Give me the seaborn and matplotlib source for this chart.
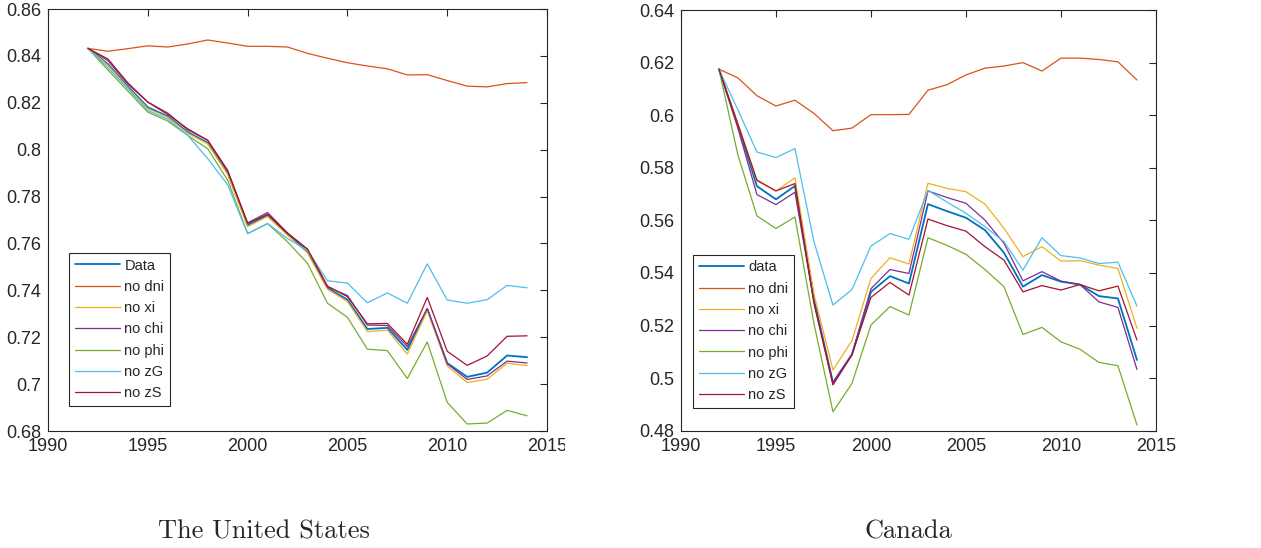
import matplotlib
matplotlib.use("Agg")
import matplotlib.pyplot as plt
from matplotlib.transforms import Bbox, TransformedBbox
import seaborn as sns
import pandas as pd
import numpy as np

years = list(range(1992, 2015))
series_us = ["Data", "no dni", "no xi", "no chi", "no phi", "no zG", "no zS"]
series_ca = ["data", "no dni", "no xi", "no chi", "no phi", "no zG", "no zS"]

# MATLAB default line colours
colors = ["#0072BD", "#D95319", "#EDB120", "#7E2F8E", "#77AC30", "#4DBEEE", "#A2142F"]

# United States
us_data = [0.8432, 0.8365, 0.827, 0.8181, 0.8142, 0.8075, 0.8029, 0.790, 0.7678, 0.772, 0.764, 0.7565,
           0.741, 0.736, 0.7235, 0.724, 0.7146, 0.732, 0.709, 0.7031, 0.7049, 0.7122, 0.7115]
us_dni = [0.8432, 0.842, 0.8431, 0.8443, 0.8438, 0.8451, 0.8468, 0.8455, 0.8441, 0.8441, 0.8438, 0.8411,
          0.839, 0.8371, 0.8357, 0.8345, 0.8319, 0.832, 0.8295, 0.8271, 0.8268, 0.8282, 0.8286]
us_xi = [0.8432, 0.836, 0.8265, 0.8175, 0.8138, 0.807, 0.8025, 0.7895, 0.7672, 0.7715, 0.7635, 0.756,
         0.7405, 0.7352, 0.7224, 0.723, 0.7128, 0.7313, 0.7078, 0.7007, 0.7021, 0.7089, 0.7079]
us_chi = [0.8432, 0.838, 0.828, 0.8203, 0.8156, 0.8085, 0.804, 0.7908, 0.7688, 0.7732, 0.7645, 0.7575,
          0.7415, 0.7378, 0.7252, 0.725, 0.716, 0.7323, 0.7087, 0.702, 0.7035, 0.7098, 0.709]
us_phi = [0.8432, 0.834, 0.825, 0.816, 0.8122, 0.8061, 0.8004, 0.787, 0.7642, 0.7685, 0.7607, 0.7515,
          0.7345, 0.7285, 0.7149, 0.7143, 0.7024, 0.718, 0.6922, 0.683, 0.6834, 0.6888, 0.6865]
us_zg = [0.8432, 0.835, 0.826, 0.8167, 0.813, 0.8061, 0.7962, 0.785, 0.7642, 0.7685, 0.7621, 0.757,
         0.7441, 0.7431, 0.7347, 0.7389, 0.7345, 0.7513, 0.7359, 0.7345, 0.736, 0.7421, 0.7411]
us_zs = [0.8432, 0.8387, 0.8285, 0.8203, 0.815, 0.8089, 0.804, 0.7912, 0.7685, 0.7725, 0.7643, 0.7576,
         0.7418, 0.7373, 0.7257, 0.7259, 0.717, 0.737, 0.714, 0.708, 0.712, 0.7204, 0.7206]

# Canada
ca_data = [0.6175, 0.596, 0.573, 0.568, 0.5731, 0.530, 0.4983, 0.509, 0.5328, 0.5388, 0.536, 0.5662,
           0.5635, 0.561, 0.5563, 0.5477, 0.5348, 0.5392, 0.5367, 0.5356, 0.5312, 0.5303, 0.5069]
ca_dni = [0.6175, 0.6142, 0.6074, 0.6035, 0.6057, 0.6007, 0.5941, 0.5951, 0.6002, 0.6002, 0.6003, 0.6095,
          0.6116, 0.6153, 0.6179, 0.6187, 0.62, 0.6168, 0.6217, 0.6217, 0.6212, 0.6203, 0.6134]
ca_xi = [0.6175, 0.597, 0.575, 0.5712, 0.5762, 0.532, 0.5031, 0.5142, 0.5379, 0.5458, 0.5434, 0.5741,
         0.5722, 0.5709, 0.5662, 0.557, 0.5462, 0.55, 0.5445, 0.5447, 0.543, 0.5417, 0.5189]
ca_chi = [0.6175, 0.595, 0.5698, 0.566, 0.5707, 0.529, 0.4983, 0.509, 0.534, 0.5413, 0.5398, 0.5712,
          0.5687, 0.5665, 0.5601, 0.5513, 0.537, 0.5405, 0.5369, 0.5356, 0.529, 0.5269, 0.5033]
ca_phi = [0.6175, 0.5848, 0.5617, 0.5569, 0.5613, 0.5208, 0.4872, 0.498, 0.5202, 0.5272, 0.524, 0.5534,
          0.5505, 0.5471, 0.5413, 0.5348, 0.5166, 0.5193, 0.5138, 0.511, 0.506, 0.5047, 0.4822]
ca_zg = [0.6175, 0.602, 0.586, 0.5839, 0.5873, 0.5519, 0.5278, 0.5337, 0.5502, 0.555, 0.5528, 0.5714,
         0.567, 0.5627, 0.5576, 0.5519, 0.5411, 0.5534, 0.5466, 0.5457, 0.5436, 0.5441, 0.5274]
ca_zs = [0.6175, 0.5965, 0.5753, 0.5712, 0.574, 0.5285, 0.4974, 0.5088, 0.5307, 0.5364, 0.5316, 0.5605,
         0.558, 0.5559, 0.55, 0.5449, 0.5328, 0.5352, 0.5335, 0.5356, 0.5332, 0.535, 0.5145]

us_values = [us_data, us_dni, us_xi, us_chi, us_phi, us_zg, us_zs]
ca_values = [ca_data, ca_dni, ca_xi, ca_chi, ca_phi, ca_zg, ca_zs]

sns.set_style("white")
plt.rcParams['font.family'] = ['Liberation Sans', 'DejaVu Sans']
axis_col = "#262626"

fig = plt.figure(figsize=(12.61, 5.48), dpi=100)
ax1 = fig.add_axes([0.0381, 0.2135, 0.3957, 0.770])
ax2 = fig.add_axes([0.540, 0.214, 0.3767, 0.7677])


def draw(ax, names, values, ylim, yticks, ylabels, legend_anchor):
    for name, vals, col in zip(names, values, colors):
        df = pd.DataFrame({"year": years, "value": vals})
        lw = 1.3 if name.lower() == "data" else 0.9
        sns.lineplot(data=df, x="year", y="value", color=col, linewidth=lw, label=name, ax=ax)
    ax.set_xlim(1990, 2015)
    ax.set_ylim(*ylim)
    ax.set_xticks(range(1990, 2016, 5))
    ax.set_yticks(yticks)
    ax.set_yticklabels(ylabels)
    ax.set_xlabel("")
    ax.set_ylabel("")
    ax.tick_params(direction="in", length=5, width=0.8, colors=axis_col, labelsize=13,
                   top=True, right=True, pad=5)
    for sp in ax.spines.values():
        sp.set_color(axis_col)
        sp.set_linewidth(0.8)
    leg = ax.legend(loc="lower left", bbox_to_anchor=legend_anchor, fontsize=10.5, frameon=True,
                    fancybox=False, framealpha=1, edgecolor=axis_col, handlelength=3.1,
                    handletextpad=0.3, labelspacing=0.5, borderpad=0.4, borderaxespad=0)
    leg.get_frame().set_linewidth(0.8)


draw(ax1, series_us, us_values, (0.68, 0.86), np.arange(0.68, 0.861, 0.02),
     ["0.68", "0.7", "0.72", "0.74", "0.76", "0.78", "0.8", "0.82", "0.84", "0.86"], (0.042, 0.059))
draw(ax2, series_ca, ca_values, (0.48, 0.64), np.arange(0.48, 0.641, 0.02),
     ["0.48", "0.5", "0.52", "0.54", "0.56", "0.58", "0.6", "0.62", "0.64"], (0.025, 0.054))

# the left panel's last year label is cut off in the original figure
clip = TransformedBbox(Bbox.from_extents(0, 0, 565 / 1261, 1), fig.transFigure)
last = ax1.xaxis.get_major_ticks()[-1].label1
last.set_clip_on(True)
last.set_clip_box(clip)

fig.text(0.2095, 0.030, "The United States", family="cmr10", fontsize=19, ha="center", va="center")
fig.text(0.720, 0.030, "Canada", family="cmr10", fontsize=19, ha="center", va="center")

fig.savefig("out.png", dpi=100)
